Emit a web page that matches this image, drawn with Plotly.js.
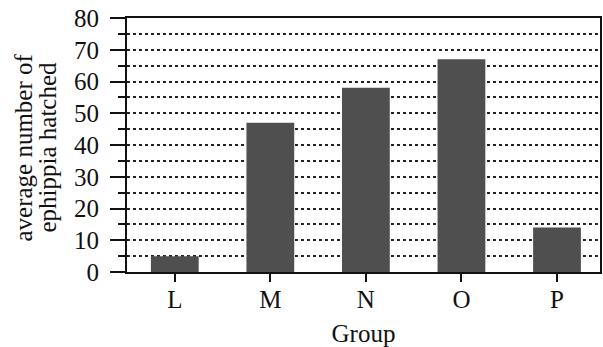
<!DOCTYPE html>
<html>
<head>
<meta charset="utf-8">
<script src="https://cdn.plot.ly/plotly-3.0.1.min.js"></script>
<style>html,body{margin:0;padding:0;background:#fff;}#chart{width:603px;height:347px;}</style>
</head>
<body>
<div id="chart"></div>
<script>
const groups = ["L", "M", "N", "O", "P"];
const hatched = [5, 47, 58, 67, 14];
const yTickVals = [0, 10, 20, 30, 40, 50, 60, 70, 80];
const yTickText = ["0", "10", "20", "30", "40", "50", "60", "70", "80"];
const yTitleLines = ["average number of", "ephippia hatched"];

const trace = {
  type: "bar",
  x: groups,
  y: hatched,
  width: 0.5,
  marker: {color: "#4f4f4f", line: {width: 0}},
  hoverinfo: "x+y"
};

const plotLeft = 127, plotWidth = 473;
const titleCentersPx = [24, 48];
const FONT = "'Liberation Serif', 'Times New Roman', Times, serif";

const layout = {
  width: 603,
  height: 347,
  margin: {l: 127, r: 3, t: 18, b: 75},
  paper_bgcolor: "#ffffff",
  plot_bgcolor: "#ffffff",
  font: {family: FONT, color: "#111", size: 25},
  showlegend: false,
  xaxis: {
    range: [-0.5, 4.45],
    showline: true, linecolor: "#111", linewidth: 2, mirror: true,
    ticks: "outside", ticklen: 8, tickwidth: 2, tickcolor: "#111",
    showgrid: false, zeroline: false,
    tickfont: {family: FONT, size: 25},
    ticklabelstandoff: -4,
    title: {text: "Group", font: {family: FONT, size: 25}, standoff: 16}
  },
  yaxis: {
    range: [0, 80],
    tickvals: yTickVals, ticktext: yTickText,
    showline: true, linecolor: "#111", linewidth: 2, mirror: true,
    ticks: "outside", ticklen: 15, tickwidth: 2, tickcolor: "#111",
    tickfont: {family: FONT, size: 25},
    ticklabelstandoff: 6,
    showgrid: true, gridcolor: "#222", gridwidth: 2, griddash: "dot",
    zeroline: false,
    minor: {dtick: 5, showgrid: true, gridcolor: "#222", gridwidth: 2, griddash: "dot",
            ticks: "outside", ticklen: 7, tickwidth: 2, tickcolor: "#111"}
  },
  annotations: yTitleLines.map((t, i) => ({
    text: t,
    xref: "paper", yref: "paper",
    x: (titleCentersPx[i] - plotLeft) / plotWidth,
    y: 0.49,
    xanchor: "center", yanchor: "middle",
    textangle: -90,
    showarrow: false,
    font: {family: FONT, size: 25, color: "#111"}
  }))
};

Plotly.newPlot("chart", [trace], layout, {displayModeBar: false, staticPlot: true});
</script>
</body>
</html>
